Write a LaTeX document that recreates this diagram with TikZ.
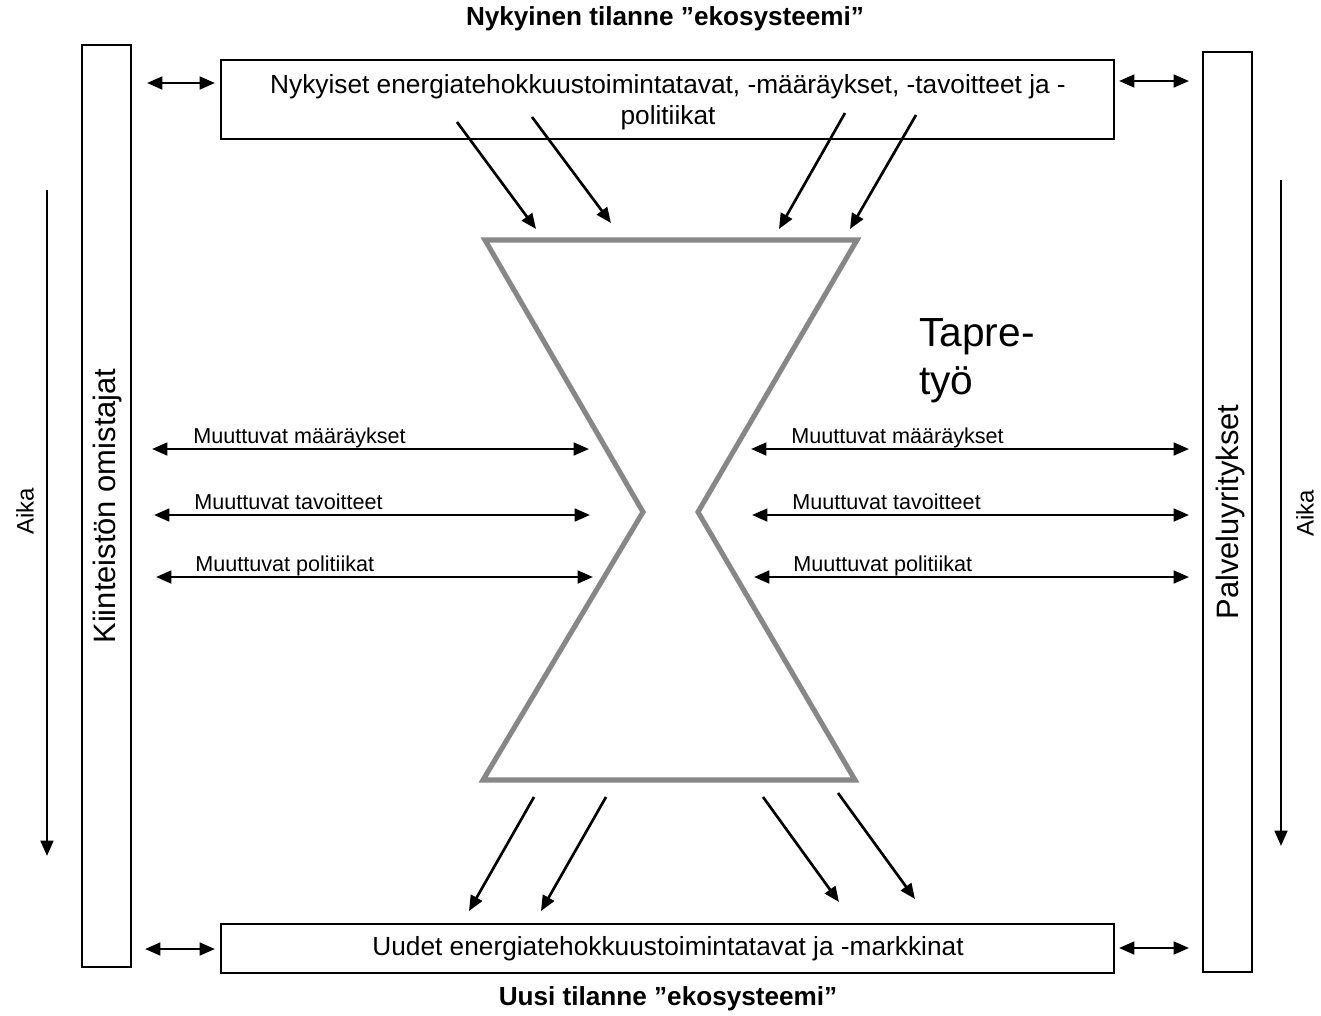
\documentclass[tikz,border=0pt]{standalone}
\usepackage{fontspec}
\setmainfont{Liberation Sans}
\usetikzlibrary{arrows.meta}
\begin{document}
\begin{tikzpicture}[x=0.75pt,y=-0.75pt,
  frame/.style={draw=black,line width=1.6pt,fill=white},
  arr/.style={-{Triangle[length=11.5pt,width=9.5pt]},line width=2pt},
  darr/.style={{Triangle[length=11.5pt,width=9.5pt]}-{Triangle[length=11.5pt,width=9.5pt]},line width=2pt},
  lbl/.style={font=\fontsize{16.2}{18}\selectfont,inner sep=0pt,anchor=base west},
  boxtxt/.style={font=\fontsize{19.7}{23.5}\selectfont,align=center},
  sidetxt/.style={font=\fontsize{23.2}{26}\selectfont,rotate=90},
  ttl/.style={font=\bfseries\fontsize{19.6}{22}\selectfont}]
\useasboundingbox[fill=white] (0,0) rectangle (1321,1015);
% titles
\node[ttl] (ttop) at (665,19) {Nykyinen tilanne ”ekosysteemi”};
\node[ttl] (tbot) at (668,999) {Uusi tilanne ”ekosysteemi”};
% side boxes
\draw[frame] (82,45) rectangle (131,967);
\node[sidetxt] (left) at (108,506) {Kiinteistön omistajat};
\draw[frame] (1203,52) rectangle (1252,972);
\node[sidetxt] (right) at (1230,512) {Palveluyritykset};
% top and bottom boxes
\draw[frame] (221,60) rectangle (1114,139);
\node[boxtxt] (top) at (668,102) {Nykyiset energiatehokkuustoimintatavat, -määräykset, -tavoitteet ja -\\politiikat};
\draw[frame] (221,924) rectangle (1114,973);
\node[boxtxt] (bot) at (668,949) {Uudet energiatehokkuustoimintatavat ja -markkinat};
% corner double arrows
\coordinate (a1) at (147,83); \coordinate (a2) at (215,83);
\coordinate (a3) at (1119,81); \coordinate (a4) at (1189,81);
\coordinate (a5) at (145,949); \coordinate (a6) at (215,949);
\coordinate (a7) at (1119,948); \coordinate (a8) at (1189,948);
\draw[darr] (a1) -- (a2);
\draw[darr] (a3) -- (a4);
\draw[darr] (a5) -- (a6);
\draw[darr] (a7) -- (a8);
% Aika
\coordinate (t1) at (47,190); \coordinate (t2) at (47,856);
\coordinate (t3) at (1281,180); \coordinate (t4) at (1281,846);
\draw[arr] (t1) -- (t2);
\draw[arr] (t3) -- (t4);
\node[font=\fontsize{18}{20}\selectfont,rotate=90] (aikaL) at (25,511) {Aika};
\node[font=\fontsize{18}{20}\selectfont,rotate=90] (aikaR) at (1305,513) {Aika};
% hourglass
\coordinate (h1) at (485,240); \coordinate (h2) at (857,240);
\coordinate (h3) at (698,512); \coordinate (h4) at (855,780);
\coordinate (h5) at (483,780); \coordinate (h6) at (643,512);
\draw[line width=3.8pt,color=black!47,line join=miter] (h1) -- (h2) -- (h3) -- (h4) -- (h5) -- (h6) -- cycle;
\node[font=\fontsize{30.5}{36}\selectfont,align=left,anchor=north west,inner sep=0pt] (tapre) at (919,318) {Tapre-\\työ};
% top diagonal arrows
\coordinate (d1s) at (457,122); \coordinate (d1e) at (536,229);
\coordinate (d2s) at (532,117); \coordinate (d2e) at (611,223);
\coordinate (d3s) at (845,113); \coordinate (d3e) at (779,229);
\coordinate (d4s) at (916,115); \coordinate (d4e) at (850,229);
\draw[arr] (d1s) -- (d1e);
\draw[arr] (d2s) -- (d2e);
\draw[arr] (d3s) -- (d3e);
\draw[arr] (d4s) -- (d4e);
% bottom diagonal arrows
\coordinate (b1s) at (534,797); \coordinate (b1e) at (469,911);
\coordinate (b2s) at (606,797); \coordinate (b2e) at (541,911);
\coordinate (b3s) at (763,797); \coordinate (b3e) at (839,902);
\coordinate (b4s) at (838,793); \coordinate (b4e) at (915,899);
\draw[arr] (b1s) -- (b1e);
\draw[arr] (b2s) -- (b2e);
\draw[arr] (b3s) -- (b3e);
\draw[arr] (b4s) -- (b4e);
% horizontal arrows left
\coordinate (l1a) at (152,449); \coordinate (l1b) at (589,449);
\coordinate (l2a) at (154,515); \coordinate (l2b) at (590,515);
\coordinate (l3a) at (156,577); \coordinate (l3b) at (593,577);
\draw[darr] (l1a) -- (l1b);
\draw[darr] (l2a) -- (l2b);
\draw[darr] (l3a) -- (l3b);
\node[lbl] (ll1) at (193,443) {Muuttuvat määräykset};
\node[lbl] (ll2) at (194,509) {Muuttuvat tavoitteet};
\node[lbl] (ll3) at (195,571) {Muuttuvat politiikat};
% horizontal arrows right
\coordinate (r1a) at (751,449); \coordinate (r1b) at (1189,449);
\coordinate (r2a) at (752,515); \coordinate (r2b) at (1189,515);
\coordinate (r3a) at (754,577); \coordinate (r3b) at (1189,577);
\draw[darr] (r1a) -- (r1b);
\draw[darr] (r2a) -- (r2b);
\draw[darr] (r3a) -- (r3b);
\node[lbl] (rl1) at (791,443) {Muuttuvat määräykset};
\node[lbl] (rl2) at (792,509) {Muuttuvat tavoitteet};
\node[lbl] (rl3) at (793,571) {Muuttuvat politiikat};
\end{tikzpicture}
\end{document}
